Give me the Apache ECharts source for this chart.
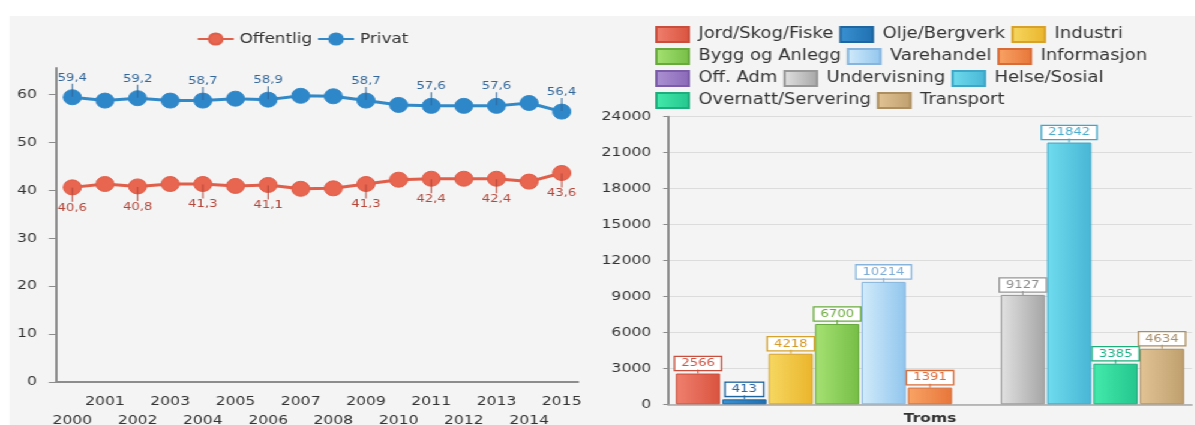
<!DOCTYPE html>
<html>
<head>
<meta charset="utf-8">
<script src="https://cdn.jsdelivr.net/npm/echarts@6/dist/echarts.min.js"></script>
<style>
  html, body { margin: 0; padding: 0; background: #fff; overflow: hidden; }
  /* the reference screenshot is stretched sideways, so the whole drawing is too */
  #wrap { position: absolute; left: 0; top: 0; width: 996px; height: 425px; transform: scaleX(1.2); transform-origin: 0 0; }
  #bg { position: absolute; left: 8px; top: 16px; right: 0; bottom: 0; background: #f4f4f4; }
  #left { position: absolute; left: 8px; top: 16px; width: 488px; height: 409px; }
  #right { position: absolute; left: 496px; top: 16px; width: 500px; height: 409px; }
</style>
</head>
<body>
<div id="wrap">
  <div id="bg"></div>
  <div id="left"></div>
  <div id="right"></div>
</div>
<script>
// venstre: andel sysselsatte offentlig / privat
const years = ['2000', '2001', '2002', '2003', '2004', '2005', '2006', '2007',
               '2008', '2009', '2010', '2011', '2012', '2013', '2014', '2015'];
const offentlig = [40.6, 41.3, 40.8, 41.3, 41.3, 40.9, 41.1, 40.3, 40.4, 41.3, 42.2, 42.4, 42.4, 42.4, 41.8, 43.6];
const privat = [59.4, 58.7, 59.2, 58.7, 58.7, 59.1, 58.9, 59.7, 59.6, 58.7, 57.8, 57.6, 57.6, 57.6, 58.2, 56.4];
const labelIdx = [0, 2, 4, 6, 9, 11, 13, 15];

// høyre: sysselsatte etter næring
const regions = ['Troms'];
const sectors = ['Jord/Skog/Fiske', 'Olje/Bergverk', 'Industri', 'Bygg og Anlegg', 'Varehandel',
                 'Informasjon', 'Off. Adm', 'Undervisning', 'Helse/Sosial', 'Overnatt/Servering', 'Transport'];
const employed = [2566, 413, 4218, 6700, 10214, 1391, null, 9127, 21842, 3385, 4634];

const FONT = 'DejaVu Sans';

// [lys, mørk, kant, tekst]
const palette = [
    ['#f0806f', '#d9543f', '#c94f3c', '#cf5646'],
    ['#3a92d2', '#2070b0', '#1f66a0', '#2a66a0'],
    ['#f6d862', '#ebb52c', '#d6a22c', '#d49a2a'],
    ['#a6e274', '#76be46', '#68aa3e', '#6caa3e'],
    ['#d2ebfb', '#92c6ee', '#86b4dc', '#7eaed6'],
    ['#f9a466', '#e8763a', '#d86c38', '#dc6c3a'],
    ['#ad92d4', '#8a68b8', '#7a5ca8', '#7a5ca8'],
    ['#e2e2e2', '#a6a6a6', '#979797', '#8c8c8c'],
    ['#70dcee', '#48b6d6', '#3ea6c6', '#4aaccc'],
    ['#44eaac', '#24c68e', '#1eae7e', '#1eb086'],
    ['#e2c495', '#bf9f6e', '#ad8e60', '#a88e6a']
];

const fmt = v => String(v).replace('.', ',');

document.addEventListener('DOMContentLoaded', () => {
    // linjediagram
    const lineChart = echarts.init(document.getElementById('left'));

    const lineSeries = (name, values, color, lineColor, textColor, below) => ({
        name: name,
        type: 'line',
        data: values.map((v, i) => ({ value: v, label: { show: labelIdx.includes(i) } })),
        symbol: 'circle',
        symbolSize: 15,
        lineStyle: { color: lineColor, width: 3 },
        itemStyle: { color: color, borderColor: lineColor, borderWidth: 1 },
        label: {
            show: false,
            position: below ? 'bottom' : 'top',
            distance: -7.5,
            formatter: p => below ? '{l| }\n{v|' + fmt(p.value) + '}' : '{v|' + fmt(p.value) + '}\n{l| }',
            rich: {
                v: { fontFamily: FONT, fontSize: 11, lineHeight: 12, color: textColor },
                l: { width: 1, height: below ? 14 : 13, lineHeight: below ? 14 : 13, fontSize: 1, backgroundColor: textColor }
            }
        }
    });

    lineChart.setOption({
        animation: false,
        textStyle: { fontFamily: FONT },
        legend: {
            top: 11,
            left: 'center',
            itemWidth: 30,
            itemHeight: 14,
            itemGap: 4,
            textStyle: { fontFamily: FONT, fontSize: 14, color: '#333' }
        },
        grid: { left: 38.7, right: 14.3, top: 52, bottom: 43, outerBoundsMode: 'none' },
        xAxis: {
            type: 'category',
            data: years,
            axisLine: { lineStyle: { color: '#8c8c8c', width: 2 } },
            axisTick: { alignWithLabel: true, length: 3, lineStyle: { color: '#aaa' } },
            axisLabel: {
                interval: 0,
                margin: 10,
                lineHeight: 19,
                fontSize: 13,
                color: '#333',
                formatter: (v, i) => i % 2 ? v : '\n' + v
            }
        },
        yAxis: {
            type: 'value',
            min: 0,
            max: 65.5,
            interval: 10,
            splitLine: { show: false },
            axisLine: { show: true, lineStyle: { color: '#8c8c8c', width: 2 } },
            axisTick: { show: true, length: 6, lineStyle: { color: '#8c8c8c' } },
            axisLabel: { margin: 16, fontSize: 13, color: '#333', showMaxLabel: false }
        },
        series: [
            lineSeries('Offentlig', offentlig, '#e8654f', '#df5f4a', '#b5473a', true),
            lineSeries('Privat', privat, '#2e87c9', '#3289c8', '#33679a', false)
        ]
    });

    // søylediagram
    const barChart = echarts.init(document.getElementById('right'));

    const barSeries = sectors.map((name, i) => {
        const [light, dark, border, text] = palette[i];
        return {
            name: name,
            type: 'bar',
            data: [employed[i]],
            barGap: '5%',
            barCategoryGap: '3%',
            itemStyle: {
                color: new echarts.graphic.LinearGradient(0, 0, 1, 0, [
                    { offset: 0, color: light },
                    { offset: 1, color: dark }
                ]),
                borderColor: border,
                borderWidth: 1
            },
            label: {
                show: employed[i] != null,
                position: 'top',
                distance: 0,
                formatter: p => '{b|' + p.value + '}\n{l| }',
                rich: {
                    b: {
                        fontFamily: FONT, fontSize: 11, lineHeight: 12, color: text,
                        backgroundColor: '#fff', borderColor: border, borderWidth: 1.3, padding: [1, 5]
                    },
                    l: { width: 1, height: 4, lineHeight: 4, fontSize: 1, backgroundColor: border }
                }
            }
        };
    });

    barChart.setOption({
        animation: false,
        textStyle: { fontFamily: FONT },
        legend: {
            top: 5,
            left: 45,
            right: 4,
            itemWidth: 27,
            itemHeight: 15,
            itemGap: 5,
            icon: 'rect',
            textStyle: { fontFamily: FONT, fontSize: 15, lineHeight: 15, color: '#333', padding: [0, 0, 0, 3] }
        },
        grid: { left: 60.7, right: 2.7, top: 100.7, bottom: 20.7, outerBoundsMode: 'none' },
        xAxis: {
            type: 'category',
            data: regions,
            axisLine: { lineStyle: { color: '#a8a8a8', width: 1.5 } },
            axisTick: { alignWithLabel: true, length: 4, lineStyle: { color: '#888' } },
            axisLabel: { margin: 8, fontSize: 13, fontWeight: 'bold', color: '#333' }
        },
        yAxis: {
            type: 'value',
            min: 0,
            max: 24000,
            interval: 3000,
            axisLine: { show: true, lineStyle: { color: '#8c8c8c', width: 2 } },
            axisTick: { show: true, length: 4, lineStyle: { color: '#8c8c8c' } },
            splitLine: { lineStyle: { color: '#dcdcdc' } },
            axisLabel: { margin: 14, fontSize: 13, color: '#333', formatter: v => String(v) }
        },
        series: barSeries
    });
});
</script>
</body>
</html>
